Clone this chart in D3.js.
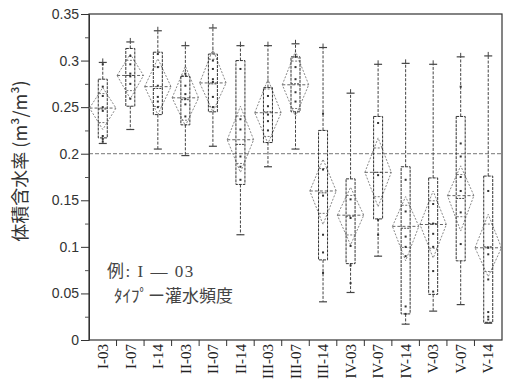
<html>
<head>
<meta charset="utf-8">
<script src="https://d3js.org/d3.v7.min.js"></script>
<style>
body { margin: 0; background: #fff; }
svg { display: block; }
.tick text { font-family: "Liberation Sans", Arial, sans-serif; }
</style>
</head>
<body>
<div id="chart"></div>
<script>
// groups (type - irrigation frequency)
var cats = ["I-03","I-07","I-14","II-03","II-07","II-14","III-03","III-07","III-14",
            "IV-03","IV-07","IV-14","V-03","V-07","V-14"];

// box plot stats
var mins    = [0.211,0.226,0.205,0.198,0.208,0.113,0.186,0.205,0.041,0.051,0.090,0.017,0.031,0.038,0.018];
var q1s     = [0.217,0.251,0.242,0.231,0.245,0.167,0.212,0.245,0.086,0.082,0.130,0.028,0.049,0.085,0.019];
var medians = [0.248,0.284,0.270,0.258,0.275,0.210,0.245,0.275,0.158,0.133,0.180,0.120,0.125,0.152,0.100];
var q3s     = [0.280,0.313,0.309,0.283,0.307,0.300,0.271,0.304,0.225,0.173,0.240,0.186,0.174,0.240,0.176];
var maxs    = [0.298,0.320,0.332,0.316,0.335,0.316,0.316,0.318,0.314,0.265,0.296,0.297,0.296,0.304,0.305];

// means diamonds
var means = [0.249,0.284,0.272,0.260,0.276,0.215,0.244,0.274,0.160,0.134,0.180,0.122,0.124,0.155,0.099];
var ciLo  = [0.226,0.259,0.242,0.230,0.245,0.180,0.211,0.240,0.124,0.102,0.143,0.085,0.088,0.117,0.068];
var ciHi  = [0.271,0.307,0.302,0.294,0.312,0.251,0.280,0.310,0.194,0.164,0.217,0.154,0.160,0.187,0.135];

// individual readings
var points = [
  [0.296,0.272,0.262,0.250,0.246,0.219,0.216,0.213],
  [0.305,0.296,0.286,0.283,0.275,0.259],
  [0.307,0.293,0.273,0.261,0.256,0.250],
  [0.286,0.273,0.264,0.259,0.253,0.240],
  [0.300,0.291,0.280,0.277,0.261,0.250],
  [0.291,0.237,0.226,0.197,0.186,0.172],
  [0.262,0.251,0.242,0.235,0.225],
  [0.304,0.293,0.280,0.266,0.256],
  [0.243,0.183,0.155,0.113,0.094,0.072],
  [0.151,0.131,0.101,0.080,0.061],
  [0.233,0.177,0.129,0.113],
  [0.172,0.138,0.111,0.100,0.090,0.036,0.028],
  [0.146,0.125,0.114,0.100,0.074,0.052],
  [0.272,0.211,0.197,0.175,0.160,0.137,0.103],
  [0.160,0.099,0.092,0.065,0.030,0.025,0.022]
];

var refLine = 0.2;
var yTicks = [0,0.05,0.1,0.15,0.2,0.25,0.3,0.35];
var yTickLabels = ["0","0.05","0.1","0.15","0.2","0.25","0.3","0.35"];
var yMinor = [0.025,0.075,0.125,0.175,0.225,0.275,0.325];

var width = 506, height = 379;
var pLeft = 89, pRight = 502, pTop = 14, pBottom = 340;

var svg = d3.select("#chart").append("svg")
  .attr("width", width).attr("height", height);

var x = d3.scaleBand().domain(cats).range([pLeft, pRight]);
var y = d3.scaleLinear().domain([0, 0.35]).range([pBottom, pTop]);
var bw = x.bandwidth();

// frame
svg.append("rect")
  .attr("x", pLeft).attr("y", pTop)
  .attr("width", pRight - pLeft).attr("height", pBottom - pTop)
  .attr("fill", "none").attr("stroke", "#333").attr("stroke-width", 1.2);

// reference line at 0.2
svg.append("line")
  .attr("x1", pLeft).attr("x2", pRight)
  .attr("y1", y(refLine)).attr("y2", y(refLine))
  .attr("stroke", "#777").attr("stroke-dasharray", "4,2");

// y axis
var yAxis = d3.axisLeft(y).tickValues(yTicks).tickSize(8).tickSizeOuter(0)
  .tickFormat(function(d, i) { return yTickLabels[i]; });
var gy = svg.append("g").attr("transform", "translate(" + pLeft + ",0)").call(yAxis);
gy.select(".domain").attr("stroke", "#333");
gy.selectAll(".tick line").attr("stroke", "#333");
gy.selectAll(".tick text").attr("font-size", 14).attr("fill", "#333").attr("x", -10);

var gym = svg.append("g").attr("transform", "translate(" + pLeft + ",0)")
  .call(d3.axisLeft(y).tickValues(yMinor).tickSize(4).tickFormat(""));
gym.select(".domain").remove();
gym.selectAll(".tick line").attr("stroke", "#555");

// y title
svg.append("text")
  .attr("transform", "translate(27,161) rotate(-90)")
  .attr("text-anchor", "middle")
  .attr("font-family", "'Noto Sans CJK JP', sans-serif")
  .attr("font-size", 18).attr("fill", "#333")
  .text("体積含水率 (m³/m³)");

// x axis separators + labels
cats.forEach(function(c, i) {
  if (i > 0) {
    svg.append("line")
      .attr("x1", x(c)).attr("x2", x(c))
      .attr("y1", pBottom).attr("y2", pBottom + 6)
      .attr("stroke", "#333");
  }
  svg.append("text")
    .attr("transform", "translate(" + (x(c) + bw / 2) + "," + (pBottom + 4) + ") rotate(-90)")
    .attr("text-anchor", "end")
    .attr("dy", "0.35em")
    .attr("font-family", "'Liberation Serif', serif")
    .attr("font-size", 15).attr("fill", "#222")
    .text(c);
});

// groups
cats.forEach(function(c, i) {
  var cx = x(c) + bw / 2;
  var g = svg.append("g");
  var hw = bw * 0.48;
  var boxW = 9;

  // diamond
  var pts = [[cx - hw, y(means[i])], [cx, y(ciHi[i])], [cx + hw, y(means[i])], [cx, y(ciLo[i])]];
  g.append("polygon")
    .attr("points", pts.map(function(p) { return p.join(","); }).join(" "))
    .attr("fill", "none").attr("stroke", "#8a8a8a").attr("stroke-width", 1)
    .attr("stroke-dasharray", "2,1.5");
  g.append("line")
    .attr("x1", cx - hw).attr("x2", cx + hw)
    .attr("y1", y(means[i])).attr("y2", y(means[i]))
    .attr("stroke", "#666").attr("stroke-dasharray", "3,2");
  // overlap marks
  var off = (ciHi[i] - means[i]) / Math.SQRT2;
  [means[i] + off, means[i] - off].forEach(function(v) {
    var w = hw * (1 - 1 / Math.SQRT2);
    g.append("line")
      .attr("x1", cx - w).attr("x2", cx + w)
      .attr("y1", y(v)).attr("y2", y(v))
      .attr("stroke", "#777").attr("stroke-dasharray", "2,1.5");
  });

  // whiskers
  g.append("line")
    .attr("x1", cx).attr("x2", cx)
    .attr("y1", y(q3s[i])).attr("y2", y(maxs[i]))
    .attr("stroke", "#444").attr("stroke-dasharray", "3,1.5");
  g.append("line")
    .attr("x1", cx).attr("x2", cx)
    .attr("y1", y(q1s[i])).attr("y2", y(mins[i]))
    .attr("stroke", "#444").attr("stroke-dasharray", "3,1.5");
  [mins[i], maxs[i]].forEach(function(v) {
    g.append("line")
      .attr("x1", cx - 4).attr("x2", cx + 4)
      .attr("y1", y(v)).attr("y2", y(v))
      .attr("stroke", "#444").attr("stroke-width", 1.2);
  });
  g.append("line")
    .attr("x1", cx).attr("x2", cx)
    .attr("y1", y(maxs[i]) - 4).attr("y2", y(maxs[i]))
    .attr("stroke", "#444");

  // box
  g.append("rect")
    .attr("x", cx - boxW / 2).attr("y", y(q3s[i]))
    .attr("width", boxW).attr("height", y(q1s[i]) - y(q3s[i]))
    .attr("fill", "none").attr("stroke", "#333").attr("stroke-width", 1)
    .attr("stroke-dasharray", "3,1");
  g.append("line")
    .attr("x1", cx - boxW / 2).attr("x2", cx + boxW / 2)
    .attr("y1", y(medians[i])).attr("y2", y(medians[i]))
    .attr("stroke", "#444").attr("stroke-dasharray", "2,1");

  // points
  points[i].forEach(function(v) {
    g.append("rect")
      .attr("x", cx - 1).attr("y", y(v) - 1)
      .attr("width", 2).attr("height", 2)
      .attr("fill", "#333");
  });
});

// legend note
svg.append("text")
  .attr("x", 107).attr("y", 277)
  .attr("font-family", "'Liberation Serif', 'Noto Sans CJK JP', serif")
  .attr("font-size", 17).attr("fill", "#444")
  .attr("letter-spacing", 1.5)
  .text("例: I — 03");
svg.append("text")
  .attr("x", 114).attr("y", 302)
  .attr("font-family", "'Noto Sans CJK JP', sans-serif")
  .attr("font-size", 17).attr("fill", "#444")
  .text("ﾀｲﾌﾟーー灌水頻度".replace("ーー", "ー"));
</script>
</body>
</html>
